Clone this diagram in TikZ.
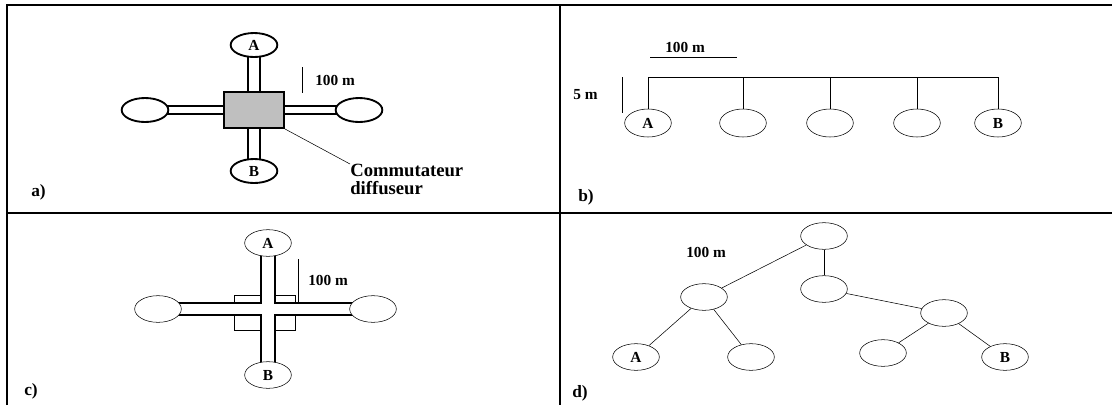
\documentclass[tikz,border=0pt]{standalone}
\usepackage{fontspec}
\setmainfont{Liberation Serif}
\usetikzlibrary{shapes,positioning,backgrounds}

\begin{document}
\begin{tikzpicture}[x=0.75pt,y=-0.75pt,line width=1.4pt]
  \tikzset{font=\bfseries\fontsize{11.5}{13}\selectfont}
  \tikzset{station/.style = {shape=ellipse,draw,fill=white,inner sep=0pt,minimum width=35pt,minimum height=20pt}}
  \tikzset{switchbox/.style = {shape=rectangle,minimum width=45pt,minimum height=27pt}}
  \tikzset{dist/.style = {inner sep=0pt,anchor=west}}
  \tikzset{tag/.style = {inner sep=0pt,anchor=west,font=\bfseries\fontsize{13}{15}\selectfont}}
  \useasboundingbox (0,0) rectangle (1112,405);

  % frame
  \draw (7,405) -- (7,5) -- (1112,5);
  \draw (560,5) -- (560,405);
  \draw (7,213) -- (1112,213);

  % a) star with switch
  \node[switchbox,draw,fill=black!25] (a0) at (254,110) {};
  \node[station,minimum height=18pt] (a1) at (254,45) {A};
  \node[station,minimum height=18pt] (a2) at (145,110) {};
  \node[station,minimum height=18pt] (a3) at (359,110) {};
  \node[station,minimum height=18pt] (a4) at (254,171) {B};
  \begin{pgfonlayer}{background}
    \draw[line width=10.9pt] (a1.center) -- (a4.center);
    \draw[white,line width=8.1pt] (a1.center) -- (a4.center);
    \draw[line width=6.9pt] (a2.center) -- (a3.center);
    \draw[white,line width=4.1pt] (a2.center) -- (a3.center);
  \end{pgfonlayer}
  \node[inner sep=0pt,anchor=north west,align=left,font=\bfseries\fontsize{14}{13.5}\selectfont] (a5) at (350,164) {Commutateur\\diffuseur};
  \draw (a0.south east) -- (a5.north west);
  \coordinate (a6) at (302,67);
  \coordinate (a7) at (302,93);
  \draw (a6) -- (a7);
  \node[dist] (a8) at (315,80) {100 m};
  \node[tag] (a9) at (31,192) {a)};

  % b) bus
  \node[station,minimum height=21pt] (b1) at (648,123) {A};
  \node[station,minimum height=21pt] (b2) at (743,123) {};
  \node[station,minimum height=21pt] (b3) at (830,123) {};
  \node[station,minimum height=21pt] (b4) at (917,123) {};
  \node[station,minimum height=21pt] (b5) at (998,123) {B};
  \draw (b1.north) -- ++(0,-31) -| (b5.north);
  \foreach \n in {2,3,4}
    \draw (b\n.north) -- ++(0,-31);
  \coordinate (b6) at (650,57);
  \coordinate (b7) at (737,57);
  \draw (b6) -- (b7);
  \node[dist] (b8) at (665,47) {100 m};
  \coordinate (b9) at (622,77);
  \coordinate (b10) at (622,113);
  \draw (b9) -- (b10);
  \node[dist] (b11) at (573,95) {5 m};
  \node[tag] (b12) at (578,197) {b)};

  % c) star with hub
  \node[switchbox,minimum height=26pt] (c0) at (265,313) {};
  \node[station] (c1) at (268,243) {A};
  \node[station] (c2) at (158,309) {};
  \node[station] (c3) at (373,309) {};
  \node[station] (c4) at (268,375) {B};
  \begin{pgfonlayer}{background}
    \draw (c0.north west) rectangle (c0.south east);
    \draw[line width=10.6pt] (c2.center) -- (c3.center);
    \draw[line width=11.9pt] (c1.center) -- (c4.center);
    \draw[white,line width=7.8pt] (c2.center) -- (c3.center);
    \draw[white,line width=9.1pt] (c1.center) -- (c4.center);
  \end{pgfonlayer}
  \coordinate (c5) at (298,259);
  \coordinate (c6) at (298,303);
  \draw (c5) -- (c6);
  \node[dist] (c7) at (308,280) {100 m};
  \node[tag] (c8) at (24,391) {c)};

  % d) tree
  \node[station] (d1) at (824,236) {};
  \node[station] (d2) at (824,289) {};
  \node[station] (d3) at (704,297) {};
  \node[station] (d4) at (944,313) {};
  \node[station] (d5) at (636,357) {A};
  \node[station] (d6) at (751,357) {};
  \node[station] (d7) at (883,353) {};
  \node[station] (d8) at (1005,357) {B};
  \draw (d1) -- (d3);
  \draw (d1) -- (d2);
  \draw (d2) -- (d4);
  \draw (d3) -- (d5);
  \draw (d3) -- (d6);
  \draw (d4) -- (d7);
  \draw (d4) -- (d8);
  \node[dist] (d9) at (686,252) {100 m};
  \node[tag] (d10) at (572,393) {d)};
\end{tikzpicture}
\end{document}
